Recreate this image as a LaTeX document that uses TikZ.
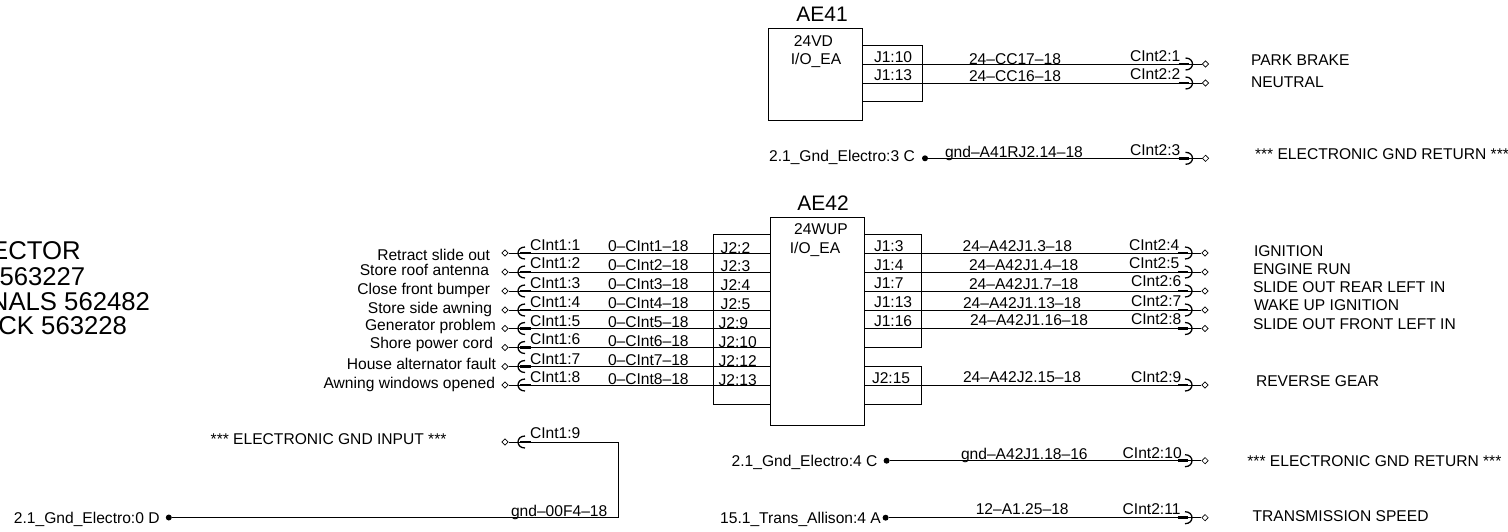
\documentclass[tikz,border=0pt]{standalone}
\usepackage{fontspec}
\setmainfont{Liberation Sans}
\usepackage{tikz}
\usetikzlibrary{positioning}
\usetikzlibrary{shapes.geometric}
\tikzset{basic/.style={inner sep=0,outer sep=0,text height=11.2pt,text depth=0pt,font=\fontsize{15.6}{18}\selectfont}}
\tikzset{lefttext/.style={basic,anchor=west}}
\tikzset{righttext/.style={basic,anchor=east}}
\tikzset{title/.style={basic,text height=15pt,font=\fontsize{21}{24}\selectfont}}
\tikzset{bigtext/.style={basic,anchor=east,text height=18.4pt,font=\fontsize{25.7}{28}\selectfont}}
\tikzset{ecu/.style={draw,line width=1pt,inner sep=0,outer sep=0,anchor=north west}}
\tikzset{contact/.style={draw,diamond,line width=.6pt,inner sep=0,minimum size=6.5pt,fill=white}}
\tikzset{dot/.style={circle,fill=black,inner sep=0,minimum size=6pt}}
\tikzset{wire/.style={draw,line width=1pt}}
\tikzset{plugr/.pic={
    \draw[line width=2.8pt] (-27,0) -- (-17,0);
    \draw[line width=1.3pt] (-20,-6) .. controls (-10.7,-6) and (-10.7,6) .. (-20,6);}}
\tikzset{plugl/.pic={
    \draw[line width=2.8pt] (15,0) -- (26,0);
    \draw[line width=1.3pt] (20,-6) .. controls (10.7,-6) and (10.7,6) .. (20,6);}}

\begin{document}
\begin{tikzpicture}[x=1pt,y=-1pt]
    \useasboundingbox (0,0) rectangle (1508,531);

    % connector note, cut off by the page
    \node[bigtext] (note1) at (80.7,250.7) {ECTOR};
    \node[bigtext] (note2) at (85.3,276.7) {563227};
    \node[bigtext] (note3) at (150,301.7) {NALS 562482};
    \node[bigtext] (note4) at (127,325) {CK 563228};

    % AE41
    \node[title] (ae41title) at (822,14) {AE41};
    \node[ecu,minimum width=94.5pt,minimum height=92.7pt] (ae41) at (768,28) {};
    \node[ecu,minimum width=59.5pt,minimum height=56.7pt] (ae41j1) at (862.5,45) {};
    \node[basic] (ae41type) at (813.5,40.7) {24VD};
    \node[basic] (ae41io) at (816,59) {I/O\_EA};

    \node[contact] (e1) at (1205.5,64) {};
    \node[lefttext] (e1pin) at (874,56.7) {J1:10};
    \node[lefttext] (e1name) at (969,59) {24--CC17--18};
    \node[lefttext] (e1int) at (1130,56) {CInt2:1};
    \node[lefttext] (e1text) at (1251,59.7) {PARK BRAKE};
    \draw[wire] (ae41.east |- e1) -- (e1) pic {plugr};

    \node[contact] (e2) at (1205.5,83) {};
    \node[lefttext] (e2pin) at (874,75) {J1:13};
    \node[lefttext] (e2name) at (969,76) {24--CC16--18};
    \node[lefttext] (e2int) at (1130,74) {CInt2:2};
    \node[lefttext] (e2text) at (1251,82.3) {NEUTRAL};
    \draw[wire] (ae41.east |- e2) -- (e2) pic {plugr};

    \node[contact] (e3) at (1205.5,158.3) {};
    \node[dot] (g3) at (925,158.3) {};
    \node[righttext,left=7pt of g3,yshift=2.6pt] (g3text) {2.1\_Gnd\_Electro:3 C};
    \node[lefttext] (e3name) at (945,151.7) {gnd--A41RJ2.14--18};
    \node[lefttext] (e3int) at (1130,150) {CInt2:3};
    \node[lefttext] (e3text) at (1255,154) {*** ELECTRONIC GND RETURN ***};
    \draw[wire] (g3) -- (e3) pic {plugr};

    % AE42
    \node[title] (ae42title) at (823,203) {AE42};
    \node[ecu,minimum width=94.7pt,minimum height=208pt] (ae42) at (770,217) {};
    \node[ecu,minimum width=57pt,minimum height=170pt] (ae42j2) at (713,234) {};
    \node[ecu,minimum width=56.3pt,minimum height=113pt] (ae42j1) at (864.7,234) {};
    \node[ecu,minimum width=56.3pt,minimum height=38pt] (ae42j3) at (864.7,366) {};
    \node[basic] (ae42type) at (821,229) {24WUP};
    \node[basic] (ae42io) at (815,248) {I/O\_EA};

    % left side of AE42
    \node[contact] (a1) at (505,253) {};
    \node[righttext] (a1text) at (490,255) {Retract slide out};
    \node[lefttext] (a1int) at (530,245) {CInt1:1};
    \node[lefttext] (a1name) at (608,246) {0--CInt1--18};
    \node[lefttext] (a1pin) at (720.7,247.7) {J2:2};
    \draw[wire] (a1) pic {plugl} -- (ae42.west |- a1);

    \node[contact] (a2) at (505,272) {};
    \node[righttext] (a2text) at (489,270) {Store roof antenna};
    \node[lefttext] (a2int) at (530,263.3) {CInt1:2};
    \node[lefttext] (a2name) at (608,265) {0--CInt2--18};
    \node[lefttext] (a2pin) at (720.7,266) {J2:3};
    \draw[wire] (a2) pic {plugl} -- (ae42.west |- a2);

    \node[contact] (a3) at (505,291) {};
    \node[righttext] (a3text) at (490,288.7) {Close front bumper};
    \node[lefttext] (a3int) at (530,282.7) {CInt1:3};
    \node[lefttext] (a3name) at (608,284) {0--CInt3--18};
    \node[lefttext] (a3pin) at (720.7,285) {J2:4};
    \draw[wire] (a3) pic {plugl} -- (ae42.west |- a3);

    \node[contact] (a4) at (505,310) {};
    \node[righttext] (a4text) at (492,307.7) {Store side awning};
    \node[lefttext] (a4int) at (530,301.7) {CInt1:4};
    \node[lefttext] (a4name) at (608,303) {0--CInt4--18};
    \node[lefttext] (a4pin) at (720.7,304) {J2:5};
    \draw[wire] (a4) pic {plugl} -- (ae42.west |- a4);

    \node[contact] (a5) at (505,328.5) {};
    \node[righttext] (a5text) at (496,325) {Generator problem};
    \node[lefttext] (a5int) at (530,320.7) {CInt1:5};
    \node[lefttext] (a5name) at (608,322) {0--CInt5--18};
    \node[lefttext] (a5pin) at (718.6,322.7) {J2:9};
    \draw[wire] (a5) pic {plugl} -- (ae42.west |- a5);

    \node[contact] (a6) at (505,347.5) {};
    \node[righttext] (a6text) at (493,343) {Shore power cord};
    \node[lefttext] (a6int) at (530,339) {CInt1:6};
    \node[lefttext] (a6name) at (608,341) {0--CInt6--18};
    \node[lefttext] (a6pin) at (718.6,342) {J2:10};
    \draw[wire] (a6) pic {plugl} -- (ae42.west |- a6);

    \node[contact] (a7) at (505,366.5) {};
    \node[righttext] (a7text) at (496,364) {House alternator fault};
    \node[lefttext] (a7int) at (530,358.7) {CInt1:7};
    \node[lefttext] (a7name) at (608,360) {0--CInt7--18};
    \node[lefttext] (a7pin) at (718.6,361) {J2:12};
    \draw[wire] (a7) pic {plugl} -- (ae42.west |- a7);

    \node[contact] (a8) at (505,385) {};
    \node[righttext] (a8text) at (495,383) {Awning windows opened};
    \node[lefttext] (a8int) at (530,377.3) {CInt1:8};
    \node[lefttext] (a8name) at (608,379) {0--CInt8--18};
    \node[lefttext] (a8pin) at (718.6,380) {J2:13};
    \draw[wire] (a8) pic {plugl} -- (ae42.west |- a8);

    % ground input
    \node[contact] (a9) at (505,442) {};
    \node[dot] (g0) at (168.8,517.5) {};
    \coordinate (c9) at (618.7,517.5);
    \node[righttext,left=6pt of g0] (g0text) {2.1\_Gnd\_Electro:0 D};
    \node[lefttext] (a9text) at (210.7,439.3) {*** ELECTRONIC GND INPUT ***};
    \node[lefttext] (a9int) at (530,432.7) {CInt1:9};
    \node[lefttext] (a9name) at (511,511) {gnd--00F4--18};
    \draw[wire] (g0) -- (c9) |- (a9) pic {plugl};

    % right side of AE42
    \node[contact] (b1) at (1205,253) {};
    \node[lefttext] (b1pin) at (874,246) {J1:3};
    \node[lefttext] (b1name) at (962.7,246) {24--A42J1.3--18};
    \node[lefttext] (b1int) at (1129,245) {CInt2:4};
    \node[lefttext] (b1text) at (1254,250.7) {IGNITION};
    \draw[wire] (ae42.east |- b1) -- (b1) pic {plugr};

    \node[contact] (b2) at (1205,272) {};
    \node[lefttext] (b2pin) at (874,265) {J1:4};
    \node[lefttext] (b2name) at (969,265) {24--A42J1.4--18};
    \node[lefttext] (b2int) at (1129,262.7) {CInt2:5};
    \node[lefttext] (b2text) at (1253,269) {ENGINE RUN};
    \draw[wire] (ae42.east |- b2) -- (b2) pic {plugr};

    \node[contact] (b3) at (1205,291) {};
    \node[lefttext] (b3pin) at (874,283) {J1:7};
    \node[lefttext] (b3name) at (969,284) {24--A42J1.7--18};
    \node[lefttext] (b3int) at (1131,280.7) {CInt2:6};
    \node[lefttext] (b3text) at (1253,286.7) {SLIDE OUT REAR LEFT IN};
    \draw[wire] (ae42.east |- b3) -- (b3) pic {plugr};

    \node[contact] (b4) at (1205,310) {};
    \node[lefttext] (b4pin) at (874,302) {J1:13};
    \node[lefttext] (b4name) at (963,303) {24--A42J1.13--18};
    \node[lefttext] (b4int) at (1131,300.7) {CInt2:7};
    \node[lefttext] (b4text) at (1254,305) {WAKE UP IGNITION};
    \draw[wire] (ae42.east |- b4) -- (b4) pic {plugr};

    \node[contact] (b5) at (1205,328.5) {};
    \node[lefttext] (b5pin) at (874,320.7) {J1:16};
    \node[lefttext] (b5name) at (970,320) {24--A42J1.16--18};
    \node[lefttext] (b5int) at (1131,319) {CInt2:8};
    \node[lefttext] (b5text) at (1253,324) {SLIDE OUT FRONT LEFT IN};
    \draw[wire] (ae42.east |- b5) -- (b5) pic {plugr};

    \node[contact] (b6) at (1205,385) {};
    \node[lefttext] (b6pin) at (872,377.7) {J2:15};
    \node[lefttext] (b6name) at (963,376.7) {24--A42J2.15--18};
    \node[lefttext] (b6int) at (1131,376.7) {CInt2:9};
    \node[lefttext] (b6text) at (1256,380.7) {REVERSE GEAR};
    \draw[wire] (ae42.east |- b6) -- (b6) pic {plugr};

    % ground return and transmission speed
    \node[contact] (b7) at (1205,460.7) {};
    \node[dot] (g4) at (886.6,460.7) {};
    \node[righttext,left=6pt of g4] (g4text) {2.1\_Gnd\_Electro:4 C};
    \node[lefttext] (b7name) at (961,454) {gnd--A42J1.18--16};
    \node[lefttext] (b7int) at (1122.7,452.7) {CInt2:10};
    \node[lefttext] (b7text) at (1247.4,460.7) {*** ELECTRONIC GND RETURN ***};
    \draw[wire] (g4) -- (b7) pic {plugr};

    \node[contact] (b8) at (1205,517.7) {};
    \node[dot] (g5) at (885.6,517.7) {};
    \node[righttext,left=1.5pt of g5] (g5text) {15.1\_Trans\_Allison:4 A};
    \node[lefttext] (b8name) at (975.8,509.3) {12--A1.25--18};
    \node[lefttext] (b8int) at (1122.7,509) {CInt2:11};
    \node[lefttext] (b8text) at (1252.6,515.7) {TRANSMISSION SPEED};
    \draw[wire] (g5) -- (b8) pic {plugr};
\end{tikzpicture}
\end{document}
